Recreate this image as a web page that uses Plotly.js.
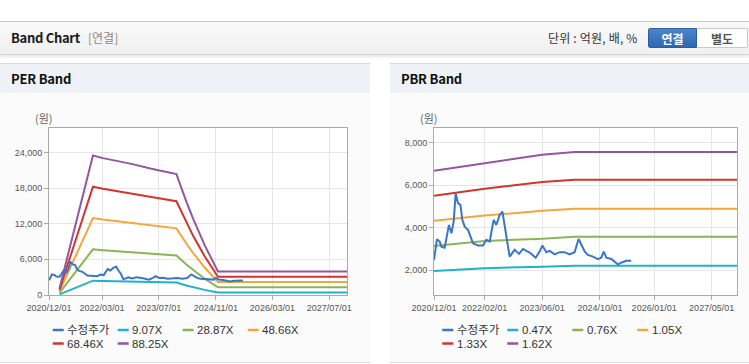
<!DOCTYPE html>
<html>
<head>
<meta charset="utf-8">
<script src="https://cdn.plot.ly/plotly-3.0.1.min.js"></script>
<style>
html,body{margin:0;padding:0;background:#fff;width:749px;height:364px;overflow:hidden;font-family:"Noto Sans CJK KR","Noto Sans",sans-serif;}
#topline{position:absolute;left:0;top:21px;width:749px;height:1px;background:#c6c6c6;}
#hdr{position:absolute;left:0;top:22px;width:749px;height:32px;background:linear-gradient(#f9f9f9,#f0f0f0);border-bottom:1px solid #d6d6d6;box-shadow:0 2px 3px rgba(0,0,0,0.10);}
#ttl{position:absolute;left:11px;top:0;line-height:32px;font-size:13px;font-weight:bold;color:#1a1a1a;letter-spacing:-0.3px;}
#sub{position:absolute;left:88px;top:0;line-height:32px;font-size:12px;color:#8a8a8a;}
#unit{position:absolute;left:548px;top:0;line-height:32px;font-size:12px;color:#333;letter-spacing:0.2px;}
#b1{position:absolute;left:648px;top:6px;width:49px;height:20px;line-height:20px;text-align:center;font-size:12px;font-weight:bold;color:#fff;background:linear-gradient(#4a86cc,#2f68b0);border:1px solid #2b5f9f;border-radius:2px 0 0 2px;box-sizing:border-box;}
#b2{position:absolute;left:697px;top:6px;width:51px;height:20px;line-height:20px;text-align:center;font-size:12px;font-weight:bold;color:#555;background:#fff;border:1px solid #c8c8c8;border-left:none;border-radius:0 2px 2px 0;box-sizing:border-box;}
.panel{position:absolute;top:63px;height:298px;background:#fbfbfb;border-top:1px solid #dadada;border-bottom:1px solid #dadada;}
.ph{position:absolute;left:0;top:0;right:0;height:29px;line-height:29px;background:#eef2f6;padding-left:11px;font-size:13px;font-weight:bold;color:#111;letter-spacing:-0.2px;}
#per{position:absolute;left:0;top:93px;width:370px;height:269px;}
#pbr{position:absolute;left:390px;top:93px;width:359px;height:269px;}
</style>
</head>
<body>
<div id="topline"></div>
<div id="hdr">
  <span id="ttl">Band Chart</span><span id="sub">[연결]</span>
  <span id="unit">단위 : 억원, 배, %</span>
  <div id="b1">연결</div><div id="b2">별도</div>
</div>
<div class="panel" style="left:0;width:370px;"><div class="ph">PER Band</div></div>
<div class="panel" style="left:390px;width:359px;"><div class="ph">PBR Band</div></div>
<div id="per"></div>
<div id="pbr"></div>
<script>
// ---- shared price series (수정주가) ----
const priceDates = ['2020-12-01','2020-12-26','2021-01-18','2021-02-01','2021-03-01','2021-03-21','2021-04-06','2021-04-27','2021-05-16','2021-06-02','2021-06-21','2021-07-12','2021-07-28','2021-08-17','2021-09-14','2021-10-26','2021-12-07','2022-01-18','2022-02-16','2022-03-16','2022-04-18','2022-05-11','2022-06-08','2022-07-01','2022-07-20','2022-08-09','2022-08-31','2022-10-12','2022-11-18','2022-12-21','2023-02-16','2023-04-08','2023-05-11','2023-06-03','2023-07-07','2023-08-04','2023-09-15','2023-10-27','2023-12-08','2024-01-19','2024-03-01','2024-04-04','2024-04-27','2024-05-25','2024-06-21','2024-08-03','2024-09-14','2024-10-12','2024-11-01','2024-11-24','2025-01-05','2025-02-02','2025-03-01','2025-04-08','2025-05-11','2025-06-22'];
const priceValues = [2480,3460,3350,3110,3060,3740,4130,3740,4290,5620,5150,5070,4370,4050,3900,3270,3160,3160,3430,3350,4370,4130,4600,4760,4130,3580,2640,2960,2770,3000,2830,2590,2880,3160,2850,2910,2750,2850,2850,2750,2850,3470,3190,2880,2720,2640,2520,2590,2880,2590,2530,2400,2280,2380,2450,2450];

// ---- PER band ----
const perBandDates = ['2021-03-01','2021-12-13','2022-03-09','2022-11-08','2023-04-28','2023-11-29','2024-02-22','2024-04-19','2024-07-28','2024-11-19','2027-12-01'];
const per907  = [113, 2413, 2367, 2268, 2182, 2091, 1614, 1324, 862, 406, 406];
const per2887 = [361, 7679, 7535, 7218, 6946, 6655, 5139, 4215, 2743, 1293, 1293];
const per4866 = [608, 12944, 12700, 12165, 11708, 11216, 8661, 7104, 4623, 2180, 2180];
const per6846 = [856, 18210, 17868, 17115, 16471, 15780, 12186, 9995, 6504, 3067, 3067];
const per8825 = [1103, 23475, 23033, 22063, 21233, 20342, 15709, 12885, 8384, 3954, 3954];
const perNames = ['수정주가','9.07X','28.87X','48.66X','68.46X','88.25X'];
const perTickVals = ['2020-12-01','2022-03-01','2023-07-01','2024-11-01','2026-03-01','2027-07-01'];
const perTickText = ['2020/12/01','2022/03/01','2023/07/01','2024/11/01','2026/03/01','2027/07/01'];

// ---- PBR band ----
const pbrBandDates = ['2020-12-01','2022-02-01','2023-06-01','2024-03-01','2027-12-01'];
const pbr047 = [1965, 2095, 2170, 2215, 2215];
const pbr076 = [3145, 3380, 3475, 3570, 3570];
const pbr105 = [4320, 4570, 4790, 4885, 4885];
const pbr133 = [5495, 5825, 6140, 6245, 6245];
const pbr162 = [6670, 7035, 7425, 7555, 7555];
const pbrNames = ['수정주가','0.47X','0.76X','1.05X','1.33X','1.62X'];
const pbrTickVals = ['2020-12-01','2022-02-01','2023-06-01','2024-10-01','2026-01-01','2027-05-01'];
const pbrTickText = ['2020/12/01','2022/02/01','2023/06/01','2024/10/01','2026/01/01','2027/05/01'];

const colors = ['#3a76c8','#1fb3c8','#8db454','#f2a73a','#d2352e','#93569f'];

function traces(bandDates, bands, names){
  const t = [];
  bands.forEach((b,i)=>{
    t.push({x:bandDates, y:b, type:'scatter', mode:'lines', name:names[i+1],
      line:{color:colors[i+1], width:2}, showlegend:false, hoverinfo:'skip'});
  });
  t.push({x:priceDates, y:priceValues, type:'scatter', mode:'lines', name:names[0],
    line:{color:colors[0], width:2}, showlegend:false, hoverinfo:'skip'});
  return t;
}

function legendBits(names, firstX, divLeft, ml, pw, plotBottom, ph){
  const shapes = [], ann = [];
  const rows = [330, 343.5];
  names.forEach((n,i)=>{
    const col = i % 4, row = Math.floor(i/4);
    const lx = firstX + col*65;
    const y = (plotBottom - rows[row]) / ph;
    shapes.push({type:'line', xref:'paper', yref:'paper',
      x0:(lx - divLeft - ml)/pw, x1:(lx + 11 - divLeft - ml)/pw, y0:y, y1:y,
      line:{color:colors[i], width:2.5}});
    ann.push({xref:'paper', yref:'paper', x:(lx + 12.5 - divLeft - ml)/pw, y:y,
      xanchor:'left', yanchor:'middle', showarrow:false, text:n,
      font:{family:'Liberation Sans, Noto Sans CJK KR, sans-serif', size:11.5, color:'#333'}});
  });
  return {shapes, ann};
}

function makeLayout(ml, mr, pw, divLeft, legendX, names, tickVals, tickText, yRange, yDtick, unitX){
  const ph = 167, plotBottom = 295;
  const lg = legendBits(names, legendX, divLeft, ml, pw, plotBottom, ph);
  lg.ann.push({xref:'paper', yref:'paper', x:(unitX - divLeft - ml)/pw, y:(plotBottom-118)/ph,
    xanchor:'center', yanchor:'middle', showarrow:false, text:'(원)',
    font:{family:'Noto Sans CJK KR, sans-serif', size:11, color:'#666'}});
  const tickFont = {family:'Liberation Sans, Arial, sans-serif', size:9, color:'#555'};
  return {
    margin:{l:ml, r:mr, t:35, b:67, pad:0},
    paper_bgcolor:'#fbfbfb', plot_bgcolor:'#ffffff',
    showlegend:false,
    xaxis:{type:'date', range:['2020-12-01','2027-12-01'], tickmode:'array', tickvals:tickVals, ticktext:tickText,
      showgrid:true, gridcolor:'#e6e6e6', gridwidth:1, showline:true, linecolor:'#aaaaaa', linewidth:1, mirror:true,
      ticks:'outside', ticklen:4, tickcolor:'#aaaaaa', tickfont:tickFont, zeroline:false, fixedrange:true},
    yaxis:{range:yRange, dtick:yDtick, tick0:0, tickformat:',d', showgrid:true, gridcolor:'#e6e6e6', gridwidth:1,
      showline:true, linecolor:'#aaaaaa', linewidth:1, mirror:true, ticks:'outside', ticklen:4, tickcolor:'#aaaaaa',
      tickfont:tickFont, zeroline:false, fixedrange:true},
    shapes:lg.shapes, annotations:lg.ann
  };
}

const cfg = {displayModeBar:false, staticPlot:true};

Plotly.newPlot('per', traces(perBandDates, [per907, per2887, per4866, per6846, per8825], perNames),
  makeLayout(49, 23, 298, 0, 52.7, perNames, perTickVals, perTickText, [0, 28100], 6000, 44), cfg);

Plotly.newPlot('pbr', traces(pbrBandDates, [pbr047, pbr076, pbr105, pbr133, pbr162], pbrNames),
  makeLayout(44, 12, 303, 390, 442.3, pbrNames, pbrTickVals, pbrTickText, [840, 8680], 2000, 429), cfg);
</script>
</body>
</html>
